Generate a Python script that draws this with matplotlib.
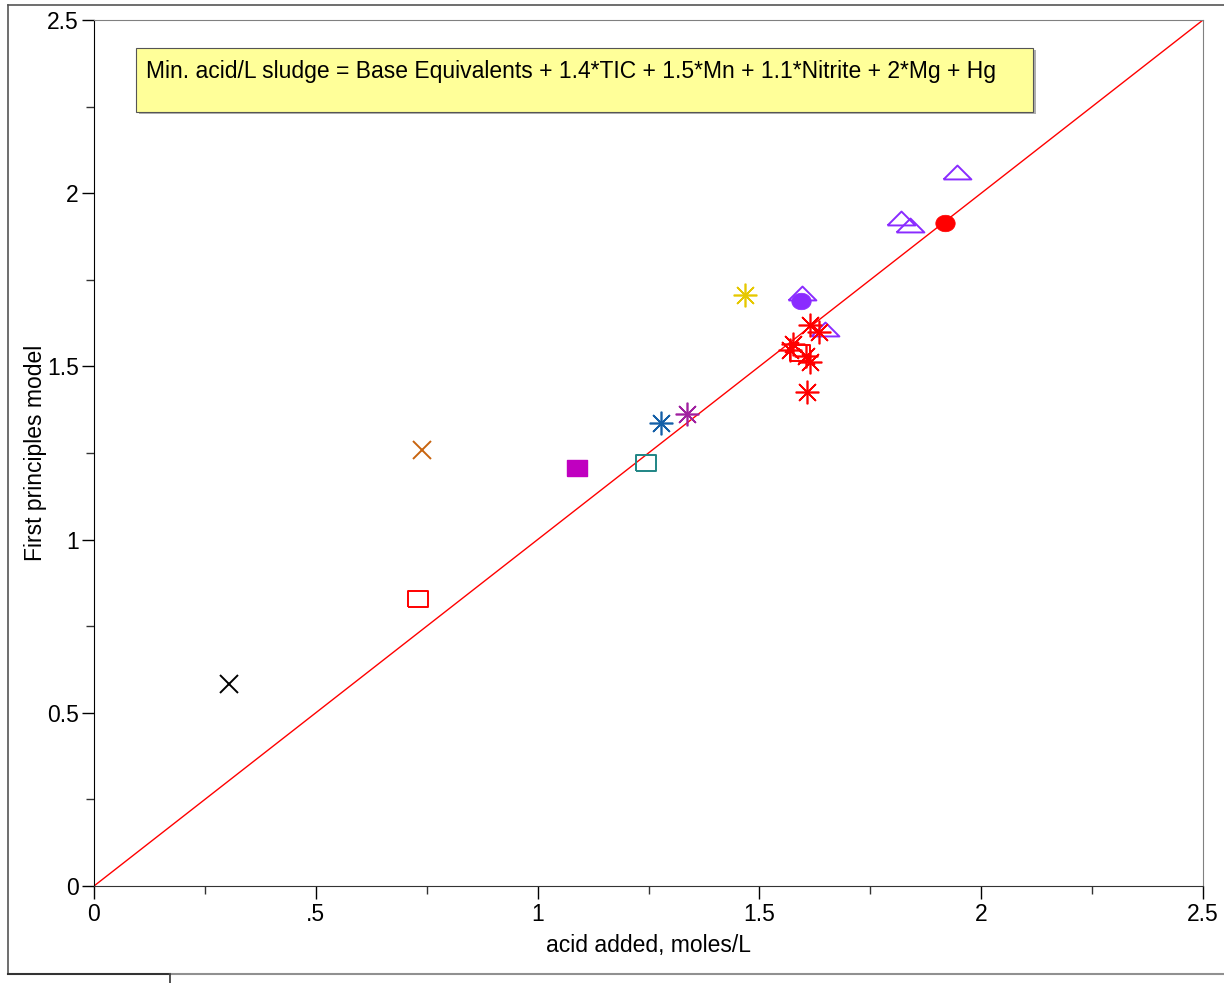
import numpy as np
import matplotlib
matplotlib.use("Agg")
import matplotlib.pyplot as plt
from matplotlib.patches import Rectangle
from matplotlib.lines import Line2D
from matplotlib.ticker import FixedLocator, FixedFormatter

plt.rcParams["font.family"] = ["Liberation Sans", "DejaVu Sans"]

# ── data ─────────────────────────────────────────────────────────────────────
x_ticks = [0, 0.5, 1, 1.5, 2, 2.5]
x_tick_labels = ["0", ".5", "1", "1.5", "2", "2.5"]
y_ticks = [0, 0.5, 1, 1.5, 2, 2.5]
y_tick_labels = ["0", "0.5", "1", "1.5", "2", "2.5"]

black_x_x = [0.304]
black_x_y = [0.583]
brown_x_x = [0.739]
brown_x_y = [1.259]
red_sq_x = [0.730, 1.591]
red_sq_y = [0.829, 1.540]
magenta_sq_x = [1.089]
magenta_sq_y = [1.207]
teal_sq_x = [1.244]
teal_sq_y = [1.221]
blue_star_x = [1.278]
blue_star_y = [1.337]
purple_star_x = [1.337]
purple_star_y = [1.363]
yellow_star_x = [1.468]
yellow_star_y = [1.706]
violet_tri_x = [1.595, 1.648, 1.819, 1.840, 1.945]
violet_tri_y = [1.712, 1.608, 1.928, 1.908, 2.061]
violet_dot_x = [1.594]
violet_dot_y = [1.689]
red_star_x = [1.614, 1.634, 1.576, 1.569, 1.605, 1.614, 1.607]
red_star_y = [1.620, 1.599, 1.565, 1.547, 1.530, 1.513, 1.426]
red_dot_x = [1.918]
red_dot_y = [1.914]

equation = "Min. acid/L sludge = Base Equivalents + 1.4*TIC + 1.5*Mn + 1.1*Nitrite + 2*Mg + Hg"

# ── marker shapes ────────────────────────────────────────────────────────────
tri = [(-1, -0.5), (1, -0.5), (0, 0.5), (-1, -0.5)]
sq = [(-1, -0.8), (1, -0.8), (1, 0.8), (-1, 0.8), (-1, -0.8)]
t = np.linspace(0, 2 * np.pi, 40)
ell = list(zip(np.cos(t), 0.85 * np.sin(t)))
star = (8, 2, 0)

fig = plt.figure(figsize=(12.24, 9.83), dpi=100)
ax = fig.add_axes([94 / 1224, 97 / 983, 1109 / 1224, 866 / 983])

# y = x reference line
ax.plot([0, 2.5], [0, 2.5], color="red", lw=1.0, zorder=2)

ax.plot(black_x_x, black_x_y, ls="none", marker="x", ms=13, mew=1.4, color="black", zorder=3)
ax.plot(brown_x_x, brown_x_y, ls="none", marker="x", ms=13, mew=1.4, color="#C8640F", zorder=3)
ax.plot(red_sq_x, red_sq_y, ls="none", marker=sq, ms=14, mew=1.4, mfc="none", mec="red", zorder=3)
ax.plot(magenta_sq_x, magenta_sq_y, ls="none", marker=sq, ms=15, mew=1.0, color="#C000C0", zorder=3)
ax.plot(teal_sq_x, teal_sq_y, ls="none", marker=sq, ms=15, mew=1.4, mfc="none", mec="#1F8585", zorder=3)
ax.plot(blue_star_x, blue_star_y, ls="none", marker=star, ms=17, mew=1.2, color="#1560A8", zorder=3)
ax.plot(purple_star_x, purple_star_y, ls="none", marker=star, ms=17, mew=1.2, color="#A020A0", zorder=3)
ax.plot(yellow_star_x, yellow_star_y, ls="none", marker=star, ms=17, mew=1.2, color="#E6C800", zorder=3)
ax.plot(violet_tri_x, violet_tri_y, ls="none", marker=tri, ms=20, mew=1.4, mfc="none", mec="#8A2BFF", zorder=3)
ax.plot(violet_dot_x, violet_dot_y, ls="none", marker=ell, ms=14, mew=0.5, color="#8A2BFF", zorder=4)
ax.plot(red_star_x, red_star_y, ls="none", marker=star, ms=17, mew=1.2, color="red", zorder=4)
ax.plot(red_dot_x, red_dot_y, ls="none", marker=ell, ms=14, mew=0.5, color="red", zorder=4)

# equation box with slight shadow
ax.add_patch(Rectangle((0.101, 2.228), 2.022, 0.185, facecolor="#B0B0B0", edgecolor="none", zorder=5))
ax.add_patch(Rectangle((0.095, 2.234), 2.022, 0.185, facecolor="#FFFF99", edgecolor="#555555", lw=0.8, zorder=6))
ax.text(0.117, 2.352, equation, fontsize=16.5, va="center", ha="left", zorder=7)

ax.set_xlim(0, 2.5)
ax.set_ylim(0, 2.5)
ax.xaxis.set_major_locator(FixedLocator(x_ticks))
ax.xaxis.set_major_formatter(FixedFormatter(x_tick_labels))
ax.yaxis.set_major_locator(FixedLocator(y_ticks))
ax.yaxis.set_major_formatter(FixedFormatter(y_tick_labels))
ax.xaxis.set_minor_locator(FixedLocator(np.arange(0.25, 2.5, 0.5)))
ax.yaxis.set_minor_locator(FixedLocator(np.arange(0.25, 2.5, 0.5)))
ax.tick_params(which="major", length=9, width=1.0, labelsize=16.5, direction="out", colors="black")
ax.tick_params(axis="y", which="major", pad=2)
ax.tick_params(axis="x", which="major", pad=3)
ax.tick_params(which="minor", length=6, width=1.0, direction="out", color="#333333")

for side in ["top", "right"]:
    ax.spines[side].set_color("#808080")
ax.spines["left"].set_color("black")
ax.spines["bottom"].set_color("#333333")

ax.set_xlabel("acid added, moles/L", fontsize=16.5, labelpad=6)
ax.set_ylabel("First principles model", fontsize=16.5, labelpad=0)

# outer window frame
W, H = 1224, 983
fig.add_artist(Line2D([8 / W, 8 / W], [1 - 5 / H, 1 - 974 / H], color="#555555", lw=1.2, transform=fig.transFigure))
fig.add_artist(Line2D([8 / W, 1], [1 - 5 / H, 1 - 5 / H], color="#555555", lw=1.2, transform=fig.transFigure))
fig.add_artist(Line2D([8 / W, 170 / W], [1 - 974 / H, 1 - 974 / H], color="#333333", lw=1.5, transform=fig.transFigure))
fig.add_artist(Line2D([170 / W, 1], [1 - 974 / H, 1 - 974 / H], color="#909090", lw=1.5, transform=fig.transFigure))
fig.add_artist(Line2D([170 / W, 170 / W], [1 - 974 / H, 0], color="#333333", lw=1.2, transform=fig.transFigure))

fig.savefig("out.png", dpi=100, facecolor="white")
